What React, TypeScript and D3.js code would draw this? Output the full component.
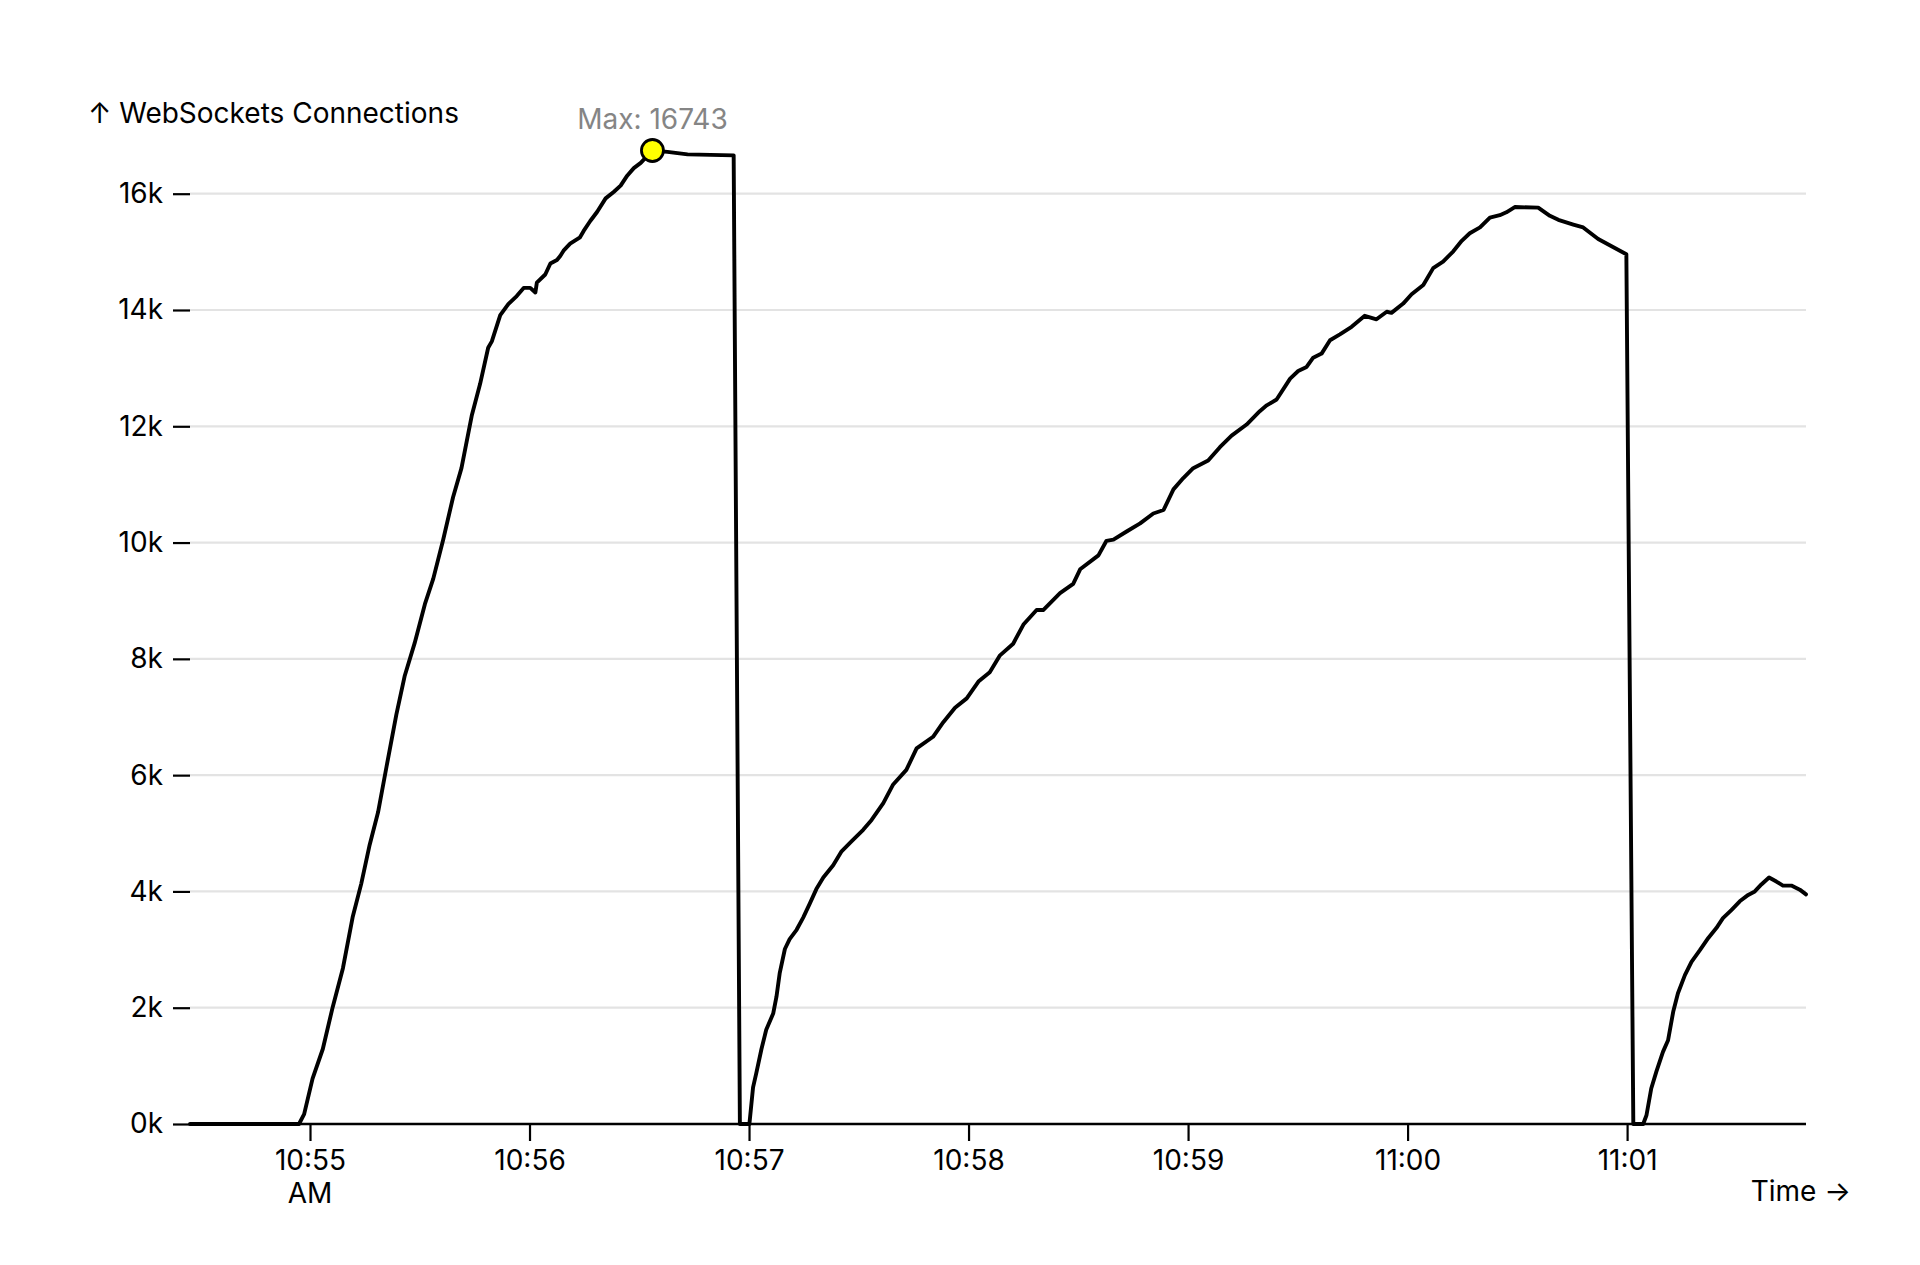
import React, { useRef, useEffect } from 'react'
import * as d3 from 'd3'

// sample times (clock, seconds may carry a decimal) and open connection counts
const times: string[] = [
  '10:54:27.2', '10:54:57.0', '10:54:58.4', '10:55:00.7', '10:55:03.5', '10:55:06.2', '10:55:09.0',
  '10:55:11.7', '10:55:14.0', '10:55:16.3', '10:55:18.6', '10:55:20.9', '10:55:23.6', '10:55:25.9',
  '10:55:28.6', '10:55:31.4', '10:55:33.7', '10:55:36.4', '10:55:39.1', '10:55:41.4', '10:55:44.2',
  '10:55:46.5', '10:55:48.7', '10:55:49.7', '10:55:52.0', '10:55:54.2', '10:55:56.5', '10:55:58.4',
  '10:56:00.2', '10:56:01.6', '10:56:02.0', '10:56:04.3', '10:56:05.7', '10:56:07.5', '10:56:08.4',
  '10:56:09.3', '10:56:11.1', '10:56:13.8', '10:56:14.8', '10:56:16.6', '10:56:18.5', '10:56:20.8',
  '10:56:23.0', '10:56:24.9', '10:56:26.7', '10:56:28.5', '10:56:30.4', '10:56:33.6', '10:56:37.7',
  '10:56:43.2', '10:56:55.8', '10:56:57.5', '10:57:00.1', '10:57:01.1', '10:57:02.0', '10:57:03.4',
  '10:57:04.7', '10:57:06.6', '10:57:07.5', '10:57:08.4', '10:57:09.8', '10:57:11.1', '10:57:13.0',
  '10:57:14.8', '10:57:16.6', '10:57:18.4', '10:57:20.3', '10:57:23.0', '10:57:25.3', '10:57:28.0',
  '10:57:31.2', '10:57:33.5', '10:57:36.7', '10:57:39.4', '10:57:43.0', '10:57:45.8', '10:57:50.3',
  '10:57:53.1', '10:57:56.3', '10:57:59.5', '10:58:02.7', '10:58:05.8', '10:58:08.6', '10:58:12.2',
  '10:58:15.0', '10:58:18.6', '10:58:20.4', '10:58:25.0', '10:58:28.6', '10:58:30.5', '10:58:35.5',
  '10:58:37.7', '10:58:39.6', '10:58:43.2', '10:58:46.9', '10:58:50.5', '10:58:53.3', '10:58:56.0',
  '10:58:58.7', '10:59:01.4', '10:59:05.5', '10:59:08.7', '10:59:11.9', '10:59:16.0', '10:59:19.6',
  '10:59:21.5', '10:59:24.2', '10:59:27.9', '10:59:30.1', '10:59:32.4', '10:59:34.2', '10:59:36.5',
  '10:59:38.8', '10:59:41.5', '10:59:44.7', '10:59:48.3', '10:59:51.5', '10:59:54.3', '10:59:55.6',
  '10:59:58.8', '11:00:01.1', '11:00:04.3', '11:00:07.0', '11:00:09.7', '11:00:12.5', '11:00:14.8',
  '11:00:17.0', '11:00:19.8', '11:00:22.5', '11:00:25.2', '11:00:27.0', '11:00:29.3', '11:00:35.7',
  '11:00:38.9', '11:00:41.2', '11:00:45.3', '11:00:48.0', '11:00:52.1', '11:00:59.8', '11:01:01.7',
  '11:01:04.4', '11:01:05.3', '11:01:06.6', '11:01:08.0', '11:01:09.8', '11:01:11.2', '11:01:12.6',
  '11:01:13.9', '11:01:15.8', '11:01:17.6', '11:01:19.9', '11:01:22.2', '11:01:24.4', '11:01:26.2',
  '11:01:28.5', '11:01:30.8', '11:01:33.1', '11:01:34.9', '11:01:36.7', '11:01:38.8', '11:01:40.8',
  '11:01:42.6', '11:01:44.9', '11:01:47.2', '11:01:48.9',
]

const connections: number[] = [
  0, 0, 170, 780, 1290, 2010, 2680,
  3570, 4130, 4800, 5360, 6140, 7040, 7710,
  8270, 8940, 9380, 10050, 10780, 11280, 12180,
  12730, 13350, 13460, 13910, 14100, 14240, 14380,
  14380, 14300, 14470, 14610, 14800, 14860, 14930,
  15020, 15140, 15250, 15360, 15530, 15690, 15920,
  16030, 16140, 16310, 16440, 16530, 16743, 16720,
  16677, 16660, 0, 0, 630, 880, 1290,
  1620, 1900, 2190, 2600, 3010, 3180, 3340,
  3550, 3790, 4040, 4240, 4450, 4690, 4860,
  5060, 5230, 5520, 5840, 6090, 6460, 6660,
  6910, 7160, 7320, 7610, 7770, 8060, 8260,
  8590, 8840, 8840, 9130, 9290, 9540, 9780,
  10030, 10050, 10190, 10330, 10500, 10560, 10915,
  11110, 11280, 11410, 11640, 11840, 12030, 12260,
  12360, 12460, 12820, 12950, 13020, 13180, 13250,
  13480, 13580, 13710, 13900, 13840, 13970, 13950,
  14110, 14270, 14430, 14720, 14830, 15010, 15190,
  15320, 15420, 15590, 15630, 15680, 15770, 15760,
  15620, 15550, 15470, 15420, 15220, 14960, 0,
  0, 150, 610, 900, 1240, 1440, 1930,
  2250, 2560, 2790, 2990, 3200, 3370, 3540,
  3680, 3830, 3940, 4000, 4120, 4240, 4170,
  4100, 4100, 4030, 3950,
]

const yTicks = [0, 2000, 4000, 6000, 8000, 10000, 12000, 14000, 16000]
const xTickTimes = ['10:55', '10:56', '10:57', '10:58', '10:59', '11:00', '11:01']
const xTickLabels = ['10:55', '10:56', '10:57', '10:58', '10:59', '11:00', '11:01']
const xTickSubLabels = ['AM', '', '', '', '', '', '']

const yLabel = '↑ WebSockets Connections'
const xLabel = 'Time →'

const parseClock = (s: string) => {
  const [h, m, sec = 0] = s.split(':').map(Number)
  return new Date(2024, 0, 1, h, m, 0, Math.round(sec * 1000))
}

interface Point {
  date: Date
  value: number
}

const W = 1920
const H = 1265
const margin = { top: 150.5, right: 114, bottom: 141, left: 190 }
const FONT = 'Inter, "Noto Sans", sans-serif'
const FS = 28

const App: React.FC = () => {
  const svgRef = useRef<SVGSVGElement | null>(null)

  useEffect(() => {
    if (!svgRef.current) return
    const data: Point[] = times.map((t, i) => ({ date: parseClock(t), value: connections[i] }))

    const svg = d3.select(svgRef.current)
    svg.selectAll('*').remove()

    const x = d3.scaleTime()
      .domain(d3.extent(data, d => d.date) as [Date, Date])
      .range([margin.left, W - margin.right])

    const maxVal = d3.max(data, d => d.value) ?? 0
    const y = d3.scaleLinear()
      .domain([0, maxVal])
      .range([H - margin.bottom, margin.top])

    // grid
    svg.append('g')
      .selectAll('line')
      .data(yTicks.filter(d => d > 0))
      .join('line')
      .attr('x1', margin.left)
      .attr('x2', W - margin.right)
      .attr('y1', d => y(d))
      .attr('y2', d => y(d))
      .attr('stroke', '#e3e3e3')
      .attr('stroke-width', 2.2)

    // y axis
    const yAxis = svg.append('g')
      .attr('transform', `translate(${margin.left},0)`)
      .call(d3.axisLeft(y).tickValues(yTicks).tickSize(17).tickPadding(10)
        .tickFormat(d => `${(d as number) / 1000}k`))
    yAxis.select('.domain').remove()
    yAxis.selectAll('line').attr('stroke', '#000').attr('stroke-width', 2.2)
    yAxis.selectAll('text')
      .style('font-family', FONT)
      .style('font-size', `${FS}px`)
      .attr('fill', '#000')

    // x axis
    const tickDates = xTickTimes.map(parseClock)
    const xAxis = svg.append('g')
      .attr('transform', `translate(0,${H - margin.bottom})`)
      .call(d3.axisBottom(x).tickValues(tickDates).tickSize(17).tickPadding(9)
        .tickFormat((_, i) => xTickLabels[i]))
    xAxis.select('.domain').remove()
    xAxis.selectAll('line').attr('stroke', '#000').attr('stroke-width', 2.2)
    xAxis.selectAll('text')
      .style('font-family', FONT)
      .style('font-size', `${FS}px`)
      .attr('fill', '#000')

    // second line of the first tick label
    xAxis.append('g')
      .selectAll('text')
      .data(tickDates.filter((_, i) => xTickSubLabels[i]))
      .join('text')
      .attr('x', d => x(d))
      .attr('y', 17 + 9 + FS * 1.2)
      .attr('dy', '0.71em')
      .attr('text-anchor', 'middle')
      .style('font-family', FONT)
      .style('font-size', `${FS}px`)
      .attr('fill', '#000')
      .text((_, i) => xTickSubLabels.filter(s => s)[i])

    // baseline rule
    svg.append('line')
      .attr('x1', margin.left)
      .attr('x2', W - margin.right)
      .attr('y1', y(0))
      .attr('y2', y(0))
      .attr('stroke', '#000')
      .attr('stroke-width', 2.4)

    // the series
    const line = d3.line<Point>()
      .x(d => x(d.date))
      .y(d => y(d.value))

    svg.append('path')
      .datum(data)
      .attr('fill', 'none')
      .attr('stroke', '#000')
      .attr('stroke-width', 3.9)
      .attr('stroke-linejoin', 'round')
      .attr('stroke-linecap', 'round')
      .attr('d', line)

    // max marker
    const maxPoint = data.find(d => d.value === maxVal)!
    svg.append('circle')
      .attr('cx', x(maxPoint.date))
      .attr('cy', y(maxPoint.value))
      .attr('r', 11)
      .attr('fill', '#ffff00')
      .attr('stroke', '#000')
      .attr('stroke-width', 2.8)

    svg.append('text')
      .attr('x', x(maxPoint.date))
      .attr('y', y(maxPoint.value) - 21.5)
      .attr('text-anchor', 'middle')
      .style('font-family', FONT)
      .style('font-size', `${FS}px`)
      .attr('fill', '#858585')
      .text(`Max: ${maxPoint.value}`)

    // axis labels
    svg.append('text')
      .attr('x', 88)
      .attr('y', 123)
      .style('font-family', FONT)
      .style('font-size', `${FS}px`)
      .attr('fill', '#000')
      .text(yLabel)

    svg.append('text')
      .attr('x', 1851)
      .attr('y', 1201)
      .attr('text-anchor', 'end')
      .style('font-family', FONT)
      .style('font-size', `${FS}px`)
      .attr('fill', '#000')
      .text(xLabel)
  }, [])

  return (
    <svg
      ref={svgRef}
      width={W}
      height={H}
      style={{ position: 'absolute', left: 0, top: 0, background: '#fff' }}
    />
  )
}

export default App
